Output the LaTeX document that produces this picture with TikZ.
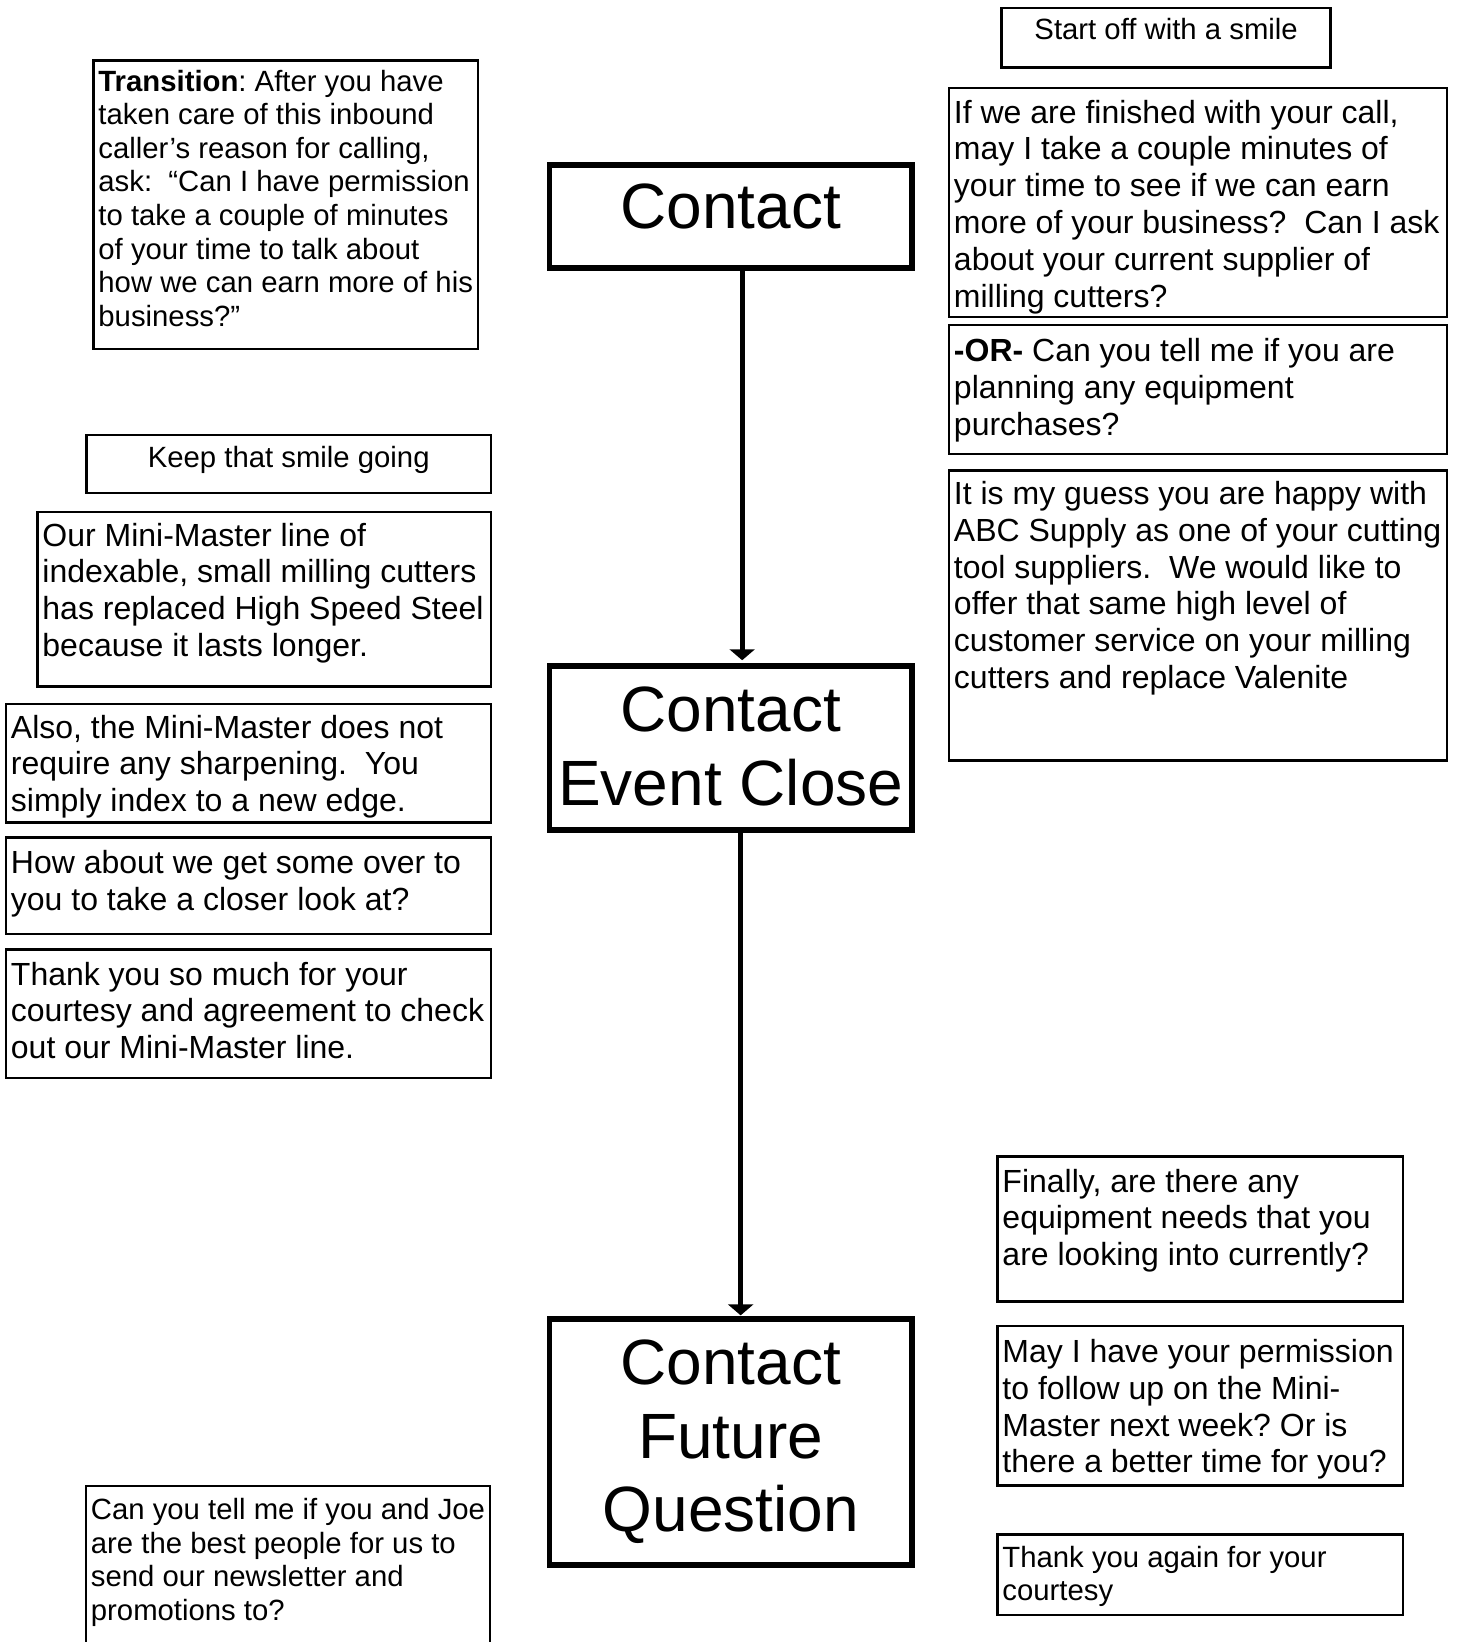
\documentclass[tikz,border=0pt]{standalone}
\usepackage{fontspec}
\setmainfont{Liberation Sans}
\usetikzlibrary{arrows.meta,calc}

% font sizes (1pt = 1 unit of the picture)
\newcommand\FontNote{\fontsize{32}{36.8}\selectfont}
\newcommand\FontSmall{\fontsize{29.3}{33.6}\selectfont}
\newcommand\FontBig{\fontsize{64}{73.5}\selectfont}

\tikzset{
  notebox/.style={draw, line width=2.5pt, inner sep=0pt, anchor=north west},
  stagebox/.style={draw, line width=5.5pt, inner sep=0pt, anchor=north west},
  notetext/.style={inner sep=0pt},
  flow/.style={line width=4.8pt, -{Triangle[width=25pt,length=11pt]}},
}

% #1 name, #2 x, #3 y (top-left), #4 width, #5 height,
% #6 first baseline below top, #7 font, #8 lines
\newcommand\LeftNote[8]{%
  \node[notebox, minimum width=#4pt-1.5pt, minimum height=#5pt-1.5pt] (#1) at (#2+0.25,#3+0.25) {};
  \node[notetext, font=#7, anchor=base west] (#1-text)
    at ($(#1.north west)+(6,#6-0.25)$) {\begin{tabular}[t]{@{}l@{}}#8\end{tabular}};
}
\newcommand\CenterNote[8]{%
  \node[notebox, minimum width=#4pt-1.5pt, minimum height=#5pt-1.5pt] (#1) at (#2+0.25,#3+0.25) {};
  \node[notetext, font=#7, anchor=base] (#1-text)
    at ($(#1.north)+(0,#6-0.25)$) {\begin{tabular}[t]{@{}c@{}}#8\end{tabular}};
}
% #1 name, #2 x, #3 y, #4 width, #5 height, #6 first baseline below frame line, #7 lines
\newcommand\Stage[7]{%
  \node[stagebox, minimum width=#4pt-5.5pt, minimum height=#5pt-5.5pt] (#1) at (#2+2.75,#3+2.75) {};
  \node[notetext, font=\FontBig, anchor=base] (#1-text)
    at ($(#1.north)+(0,#6)$) {\begin{tabular}[t]{@{}c@{}}#7\end{tabular}};
}

\begin{document}
\frenchspacing
\begin{tikzpicture}[x=1pt, y=-1pt]
\useasboundingbox (0,0) rectangle (1462,1642);
\clip (0,0) rectangle (1462,1642);

% main flow
\Stage{contact}{544}{159.6}{368}{108.5}{66.6}{Contact}
\Stage{cec}{544}{660.3}{368}{169.9}{68.5}{Contact\\Event Close}
\Stage{cfq}{544}{1313.6}{368}{251.5}{68.5}{Contact\\Future\\Question}

\draw[flow, shorten >=2.8pt] ([xshift=11.4pt]contact.south) -- ([xshift=11.4pt]cec.north);
\draw[flow, shorten >=1pt] ([xshift=9.9pt]cec.south) -- ([xshift=9.9pt]cfq.north);

% left column
\LeftNote{transition}{92}{59}{386}{290}{32}{\FontSmall}{%
  \textbf{Transition}: After you have\\
  taken care of this inbound\\
  caller’s reason for calling,\\
  ask:~~“Can I have permission\\
  to take a couple of minutes\\
  of your time to talk about\\
  how we can earn more of his\\
  business?”}
\CenterNote{keep}{85}{433.7}{406}{59.5}{33.5}{\FontSmall}{Keep that smile going}
\LeftNote{minimaster}{36}{510.5}{455}{176}{35.5}{\FontNote}{%
  Our Mini-Master line of\\
  indexable, small milling cutters\\
  has replaced High Speed Steel\\
  because it lasts longer.}
\LeftNote{sharpen}{4.5}{702.6}{486.5}{120}{35.5}{\FontNote}{%
  Also, the Mini-Master does not\\
  require any sharpening.~~You\\
  simply index to a new edge.}
\LeftNote{sample}{4.5}{835.9}{486.5}{98.3}{38}{\FontNote}{%
  How about we get some over to\\
  you to take a closer look at?}
\LeftNote{thanks}{4.5}{948}{486.5}{130}{37}{\FontNote}{%
  Thank you so much for your\\
  courtesy and agreement to check\\
  out our Mini-Master line.}
\LeftNote{newsletter}{84.5}{1484.5}{405.5}{200}{35}{\FontSmall}{%
  Can you tell me if you and Joe\\
  are the best people for us to\\
  send our newsletter and\\
  promotions to?}

% right column
\CenterNote{smile}{1000.2}{6.5}{330.3}{61.2}{32.8}{\FontSmall}{Start off with a smile}
\LeftNote{finished}{947.5}{86.5}{499.5}{230.5}{36.5}{\FontNote}{%
  If we are finished with your call,\\
  may I take a couple minutes of\\
  your time to see if we can earn\\
  more of your business?~~Can I ask\\
  about your current supplier of\\
  milling cutters?}
\LeftNote{planning}{947.5}{323.7}{499.5}{130.5}{38}{\FontNote}{%
  \textbf{-OR-} Can you tell me if you are\\
  planning any equipment\\
  purchases?}
\LeftNote{guess}{947.5}{469}{499.5}{291.5}{35.5}{\FontNote}{%
  It is my guess you are happy with\\
  ABC Supply as one of your cutting\\
  tool suppliers.~~We would like to\\
  offer that same high level of\\
  customer service on your milling\\
  cutters and replace Valenite}
\LeftNote{equipment}{996}{1155}{407}{146.5}{37}{\FontNote}{%
  Finally, are there any\\
  equipment needs that you\\
  are looking into currently?}
\LeftNote{followup}{996}{1324.5}{407}{161}{38}{\FontNote}{%
  May I have your permission\\
  to follow up on the Mini-\\
  Master next week? Or is\\
  there a better time for you?}
\LeftNote{again}{996}{1533}{407}{82}{34}{\FontSmall}{%
  Thank you again for your\\
  courtesy}
\end{tikzpicture}
\end{document}
